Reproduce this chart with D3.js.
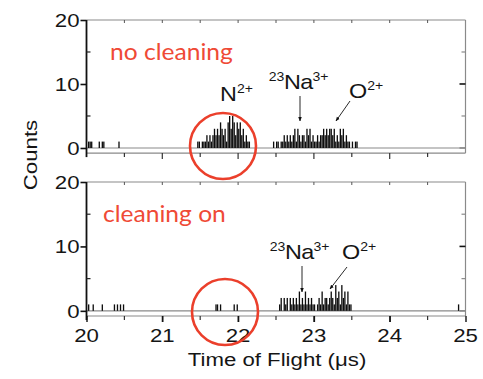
<!DOCTYPE html>
<html>
<head>
<meta charset="utf-8">
<script src="https://cdn.jsdelivr.net/npm/d3@7"></script>
<style>
  html, body { margin: 0; padding: 0; background: #fff; }
  svg { display: block; }
  .num { font-family: "Liberation Sans", Arial, sans-serif; font-size: 19px; fill: #151515; }
  .ion { font-family: "Liberation Sans", Arial, sans-serif; fill: #151515; }
  .tag { font-family: "Lato", "Open Sans", sans-serif; font-size: 23px; fill: #ef4a36; }
</style>
</head>
<body>
<svg id="chart" width="483" height="379"></svg>
<script>
// Time-of-flight histograms, 0.02 µs bins; only non-empty bins are listed.
const binWidth = 0.02;
const xDomain = [20, 25];
const yDomain = [-0.8, 20];
const xTicks = [20, 21, 22, 23, 24, 25];
const yTicks = [0, 10, 20];

const noCleaningTime = [
  20.02, 20.04, 20.06, 20.16, 20.20, 20.22, 20.42,
  21.46, 21.48, 21.52, 21.54, 21.56, 21.58, 21.60, 21.62, 21.64, 21.66, 21.68, 21.70,
  21.72, 21.74, 21.76, 21.78, 21.80, 21.82, 21.84, 21.86, 21.88, 21.90, 21.92, 21.94,
  21.96, 21.98, 22.00, 22.02, 22.04, 22.06, 22.08, 22.10, 22.12, 22.14,
  22.46, 22.50, 22.52, 22.56, 22.58, 22.60, 22.62, 22.64, 22.66, 22.68, 22.70, 22.72,
  22.74, 22.76, 22.78, 22.80, 22.82, 22.84, 22.86, 22.88, 22.90, 22.92, 22.94, 22.96,
  22.98, 23.00, 23.02, 23.04, 23.06, 23.08, 23.10, 23.12, 23.14, 23.16, 23.18, 23.20,
  23.22, 23.24, 23.26, 23.28, 23.30, 23.32, 23.34, 23.36, 23.38, 23.40, 23.42, 23.44,
  23.46, 23.50, 23.54, 23.56
];
const noCleaningCounts = [
  1, 1, 1, 1, 1, 1, 1,
  1, 1, 1, 1, 1, 2, 1, 2, 1, 2, 3, 2,
  3, 2, 4, 3, 2, 3, 1, 4, 5, 3, 5, 4,
  2, 4, 3, 4, 2, 3, 1, 2, 1, 1,
  1, 1, 1, 1, 1, 2, 1, 2, 1, 2, 1, 2,
  3, 1, 3, 2, 1, 2, 2, 1, 3, 2, 3, 1,
  2, 1, 1, 2, 1, 2, 2, 3, 2, 3, 2, 3,
  3, 2, 3, 1, 2, 1, 3, 2, 3, 1, 2, 1,
  1, 1, 1, 1
];

const cleaningOnTime = [
  20.02, 20.08, 20.20, 20.36, 20.40, 20.44, 20.48,
  21.70, 21.72, 21.76, 21.94, 21.98,
  22.54, 22.56, 22.60, 22.62, 22.64, 22.68, 22.70, 22.72, 22.74, 22.76, 22.78, 22.80,
  22.82, 22.84, 22.86, 22.88, 22.90, 22.92, 22.94, 22.96, 22.98, 23.00, 23.04, 23.06,
  23.08, 23.10, 23.12, 23.14, 23.16, 23.18, 23.20, 23.22, 23.24, 23.26, 23.28, 23.30,
  23.32, 23.34, 23.36, 23.38, 23.40, 23.42, 23.44, 23.46, 23.48,
  24.90
];
const cleaningOnCounts = [
  1, 1, 1, 1, 1, 1, 1,
  1, 1, 1, 1, 1,
  1, 2, 2, 1, 2, 2, 1, 2, 1, 2, 1, 3,
  1, 2, 1, 3, 1, 2, 1, 2, 1, 1, 1, 2,
  1, 3, 1, 2, 2, 1, 2, 3, 2, 1, 4, 2,
  3, 1, 4, 2, 3, 1, 3, 1, 1,
  1
];

// text is set slightly wide, like the original figure lettering
const SX = 1.17;

const panels = [
  { tag: "no cleaning", time: noCleaningTime, counts: noCleaningCounts,
    top: 20, bottom: 153.1, tagPos: [110, 60],
    circle: [223, 146, 33],
    labels: [
      { base: "N", sup: "2+", pre: "", x: 220, y: 101 },
      { base: "Na", sup: "3+", pre: "23", x: 284, y: 89 },
      { base: "O", sup: "2+", pre: "", x: 349, y: 98 }
    ],
    arrows: [[300, 96, 300, 121], [350, 101, 336, 121]] },
  { tag: "cleaning on", time: cleaningOnTime, counts: cleaningOnCounts,
    top: 182, bottom: 316, tagPos: [103, 222],
    circle: [225, 312, 33],
    labels: [
      { base: "Na", sup: "3+", pre: "23", x: 285, y: 259 },
      { base: "O", sup: "2+", pre: "", x: 342, y: 259 }
    ],
    arrows: [[302, 266, 302, 292], [347, 267, 330, 289]] }
];

const svg = d3.select("#chart");
const x = d3.scaleLinear().domain(xDomain).range([86.5, 465.5]);

svg.append("defs").append("marker")
  .attr("id", "head").attr("viewBox", "0 0 10 10")
  .attr("refX", 9).attr("refY", 5)
  .attr("markerWidth", 5).attr("markerHeight", 6).attr("orient", "auto")
  .append("path").attr("d", "M0,1 L10,5 L0,9 Z").attr("fill", "#111");

// wide text placed at (px, py)
function wideText(sel, px, py, cls, str, anchor) {
  return sel.append("text").attr("class", cls)
    .attr("transform", `translate(${px},${py}) scale(${SX},1)`)
    .attr("text-anchor", anchor || "start").text(str);
}

panels.forEach((p, pi) => {
  const y = d3.scaleLinear().domain(yDomain).range([p.bottom, p.top]);
  const g = svg.append("g");
  const gray = "#8a8a8a";

  // frame: gray top/right/bottom, baseline at zero
  const hl = (x1, x2, yy, c) => g.append("line").attr("x1", x1).attr("x2", x2)
    .attr("y1", yy).attr("y2", yy).attr("stroke", c).attr("stroke-width", 1.2);
  hl(x(20), x(25), y(20), gray);
  hl(x(20), x(25), p.bottom, gray);
  hl(x(20), x(25), y(0), gray);
  g.append("line").attr("x1", x(25)).attr("x2", x(25)).attr("y1", y(20)).attr("y2", p.bottom)
    .attr("stroke", gray).attr("stroke-width", 1.2);

  // histogram spikes, one per non-empty bin
  g.selectAll("rect.bin").data(p.time.map((t, i) => [t, p.counts[i]])).join("rect")
    .attr("class", "bin")
    .attr("x", d => x(d[0]))
    .attr("width", x(xDomain[0] + binWidth) - x(xDomain[0]) - 0.2)
    .attr("y", d => y(d[1]))
    .attr("height", d => y(0) - y(d[1]))
    .attr("fill", "#0d0d0d");

  // top ticks (inward)
  g.selectAll("line.tt").data(d3.range(20.5, 25, 0.5)).join("line")
    .attr("class", "tt")
    .attr("x1", d => x(d)).attr("x2", d => x(d))
    .attr("y1", y(20)).attr("y2", y(20) + 3)
    .attr("stroke", "#555").attr("stroke-width", 1);

  // bottom ticks (outward)
  g.selectAll("line.bt").data(d3.range(20.5, 25, 0.5)).join("line")
    .attr("class", "bt")
    .attr("x1", d => x(d)).attr("x2", d => x(d))
    .attr("y1", p.bottom).attr("y2", d => p.bottom + (Number.isInteger(d) ? 6 : 4))
    .attr("stroke", "#333").attr("stroke-width", 1.2);

  // left axis
  const yAxis = d3.axisLeft(y).tickValues(yTicks).tickSize(6).tickFormat("");
  const ay = g.append("g").attr("transform", `translate(${x(20)},0)`).call(yAxis);
  ay.select(".domain").remove();
  ay.selectAll(".tick line").attr("stroke", "#111").attr("stroke-width", 1.6);
  yTicks.forEach(v => {
    wideText(g, x(20) - 7, y(v) + 7, "num", d3.format("d")(v), "end");
  });
  g.append("line").attr("x1", x(20)).attr("x2", x(20))
    .attr("y1", y(20)).attr("y2", p.bottom + 4)
    .attr("stroke", "#111").attr("stroke-width", 1.8);

  // minor y ticks, inward on both sides
  [5, 15].forEach(v => {
    g.append("line").attr("x1", x(20)).attr("x2", x(20) + 4).attr("y1", y(v)).attr("y2", y(v))
      .attr("stroke", "#222").attr("stroke-width", 1.2);
    g.append("line").attr("x1", x(25) - 4).attr("x2", x(25)).attr("y1", y(v)).attr("y2", y(v))
      .attr("stroke", gray).attr("stroke-width", 1.2);
  });
  [0, 10].forEach(v => {
    g.append("line").attr("x1", x(25) - 6).attr("x2", x(25)).attr("y1", y(v)).attr("y2", y(v))
      .attr("stroke", v === 10 ? "#111" : gray).attr("stroke-width", 1.6);
  });

  // x axis labels on the lower panel only
  if (pi === 1) {
    const xAxis = d3.axisBottom(x).tickValues(xTicks).tickSize(6).tickFormat("");
    const ax = g.append("g").attr("transform", `translate(0,${p.bottom})`).call(xAxis);
    ax.select(".domain").remove();
    ax.selectAll(".tick line").attr("stroke", "#111").attr("stroke-width", 1.4);
    xTicks.forEach(v => {
      wideText(g, x(v), p.bottom + 26, "num", d3.format("d")(v), "middle");
    });
  }

  // ion labels and arrows
  p.labels.forEach(l => {
    const t = g.append("text").attr("class", "ion")
      .attr("transform", `translate(${l.x},${l.y}) scale(${SX},1)`);
    if (l.pre) {
      t.append("tspan").attr("font-size", 12).attr("x", -13).attr("dy", -8).text(l.pre);
      t.append("tspan").attr("font-size", 20).attr("x", 0).attr("dy", 8).attr("letter-spacing", -0.6).text(l.base);
    } else {
      t.append("tspan").attr("font-size", 20).text(l.base);
    }
    t.append("tspan").attr("font-size", 12).attr("dy", -8).text(l.sup);
  });
  p.arrows.forEach(a => {
    g.append("line").attr("x1", a[0]).attr("y1", a[1]).attr("x2", a[2]).attr("y2", a[3])
      .attr("stroke", "#111").attr("stroke-width", 0.9).attr("marker-end", "url(#head)");
  });

  // condition tag and highlight circle
  g.append("text").attr("class", "tag")
    .attr("transform", `translate(${p.tagPos[0]},${p.tagPos[1]}) scale(1.07,1)`).text(p.tag);
  g.append("circle").attr("cx", p.circle[0]).attr("cy", p.circle[1]).attr("r", p.circle[2])
    .attr("fill", "none").attr("stroke", "#eb3f2b").attr("stroke-width", 2.6);
});

// axis titles
svg.append("text").attr("class", "num")
  .attr("transform", `translate(37,155) rotate(-90) scale(${SX},1)`)
  .attr("text-anchor", "middle").text("Counts");
wideText(svg, 277, 366, "num", "Time of Flight (μs)", "middle");
</script>
</body>
</html>
